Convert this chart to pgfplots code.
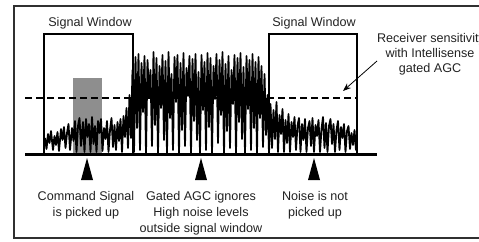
\documentclass[border=0pt]{standalone}
\usepackage{pgfplots}
\pgfplotsset{compat=1.18}
\usepackage{fontspec}
\setmainfont{Liberation Sans}
\usetikzlibrary{arrows.meta}
\definecolor{frame}{HTML}{303030}
\definecolor{txt}{HTML}{222222}
\definecolor{shade}{HTML}{8E8E8E}
\begin{document}
\begin{tikzpicture}
\begin{axis}[name=ax, scale only axis, width=479pt, height=241pt,
  xmin=0, xmax=479, ymin=0, ymax=241, y dir=reverse,
  hide axis, clip=false]
% frame
\addplot[draw=frame, line width=2pt, mark=none] coordinates {(492,5.5) (13.5,5.5) (13.5,237.5) (492,237.5)};
% command signal shading
\addplot[fill=shade, draw=none, mark=none] coordinates {(73,78) (102,78) (102,154) (73,154)} -- cycle;
% signal windows
\addplot[draw=black, line width=1.8pt, mark=none] coordinates {(44,154) (44,34) (133,34) (133,154)};
\addplot[draw=black, line width=1.8pt, mark=none] coordinates {(269,154) (269,34) (357,34) (357,154)};
% received noise
\addplot[draw=black, line width=1.8pt, line join=round, mark=none] coordinates {
(45,138)(46.5,149)(48,134)(49.5,143)(51,131)(53,150)(54.5,136)(56,145)(57.5,132)(59,151)
(61,129)(62.5,140)(64,127)(65.5,148)(67,133)(68.5,124)(70,150)(72,128)(73.5,141)(75,121)
(76.5,152)(78,126)(79.5,118)(81,146)(83,122)(84.5,152)(86,119)(87.5,137)(89,124)(90.5,152)
(92,117)(93.5,144)(95,126)(96.5,152)(98,121)(99.5,133)(101,119)(102.5,151)(104,128)(105.5,139)
(107,121)(108.5,152)(110,130)(111.5,118)(113,147)(114.5,125)(116,150)(117.5,122)(119,141)(120.5,119)
(122,152)(123.5,116)(125,137)(126.5,108)(128,148)(129.5,95)(131,138)(132.5,70)(134,152)(135.5,57)
(137,128)(138.5,54)(140,150)(141.5,63)(143,112)(144.5,56)(146,153)(147.5,60)(149,97)(150.5,70)
(152,146)(153.5,52)(155,125)(156.5,58)(158,153)(159.5,66)(161,108)(162.5,55)(164,140)(165.5,61)
(167,153)(168.5,52)(170,118)(171.5,74)(173,150)(174.5,57)(176,102)(177.5,55)(179,153)(180.5,63)
(182,130)(183.5,53)(185,146)(186.5,68)(188,96)(189.5,56)(191,153)(192.5,59)(194,121)(195.5,54)
(197,140)(198.5,72)(200,153)(201.5,55)(203,110)(204.5,62)(206,150)(207.5,53)(209,127)(210.5,58)
(212,153)(213.5,66)(215,99)(216.5,54)(218,143)(219.5,60)(221,115)(222.5,52)(224,153)(225.5,64)
(227,131)(228.5,56)(230,148)(231.5,70)(233,104)(234.5,55)(236,153)(237.5,58)(239,122)(240.5,53)
(242,139)(243.5,67)(245,153)(246.5,56)(248,109)(249.5,60)(251,150)(252.5,54)(254,128)(255.5,62)
(257,153)(258.5,57)(260,118)(261.5,66)(263,147)(264.5,74)(266,135)(267.5,95)(269,153)
(270.5,104)(272,148)(273.5,110)(275,139)(276.5,102)(278,152)(279.5,115)(281,134)(282.5,109)(284,152)
(285.5,120)(287,143)(288.5,114)(290,152)(291.5,122)(293,137)(294.5,117)(296,150)(297.5,126)(299,118)
(300.5,152)(302,124)(303.5,140)(305,119)(306.5,152)(308,128)(309.5,121)(311,146)(312.5,118)(314,152)
(315.5,125)(317,136)(318.5,120)(320,152)(321.5,129)(323,117)(324.5,148)(326,123)(327.5,152)(329,126)
(330.5,119)(332,144)(333.5,124)(335,152)(336.5,130)(338,121)(339.5,150)(341,127)(342.5,138)(344,124)
(345.5,152)(347,131)(348.5,126)(350,149)(351.5,133)(353,145)(354.5,130)(356,150)(357,142)};
% sensitivity threshold
\addplot[draw=black, line width=1.8pt, dash pattern=on 7pt off 4pt, mark=none] coordinates {(25,98) (357,98)};
% baseline
\addplot[draw=black, line width=3pt, mark=none] coordinates {(25,154) (377,154)};
% triangles
\addplot[fill=black, draw=none, mark=none] coordinates {(81,180) (93,180) (87,158)} -- cycle;
\addplot[fill=black, draw=none, mark=none] coordinates {(195,180) (207,180) (201,158)} -- cycle;
\addplot[fill=black, draw=none, mark=none] coordinates {(308,180) (320,180) (314,158)} -- cycle;
% arrow
\addplot[draw=black, line width=0.8pt, -{Stealth[length=8pt,width=6pt]}, mark=none] coordinates {(377,61) (343,91)};
% labels
\tikzset{lab/.style={anchor=base, inner sep=0pt, text=txt, font=\fontsize{12.6}{15}\selectfont}}
\node[lab] at (90,26) {Signal Window};
\node[lab] at (314,26) {Signal Window};
\node[lab] at (431,42) {Receiver sensitivity};
\node[lab] at (430,57) {with Intellisense};
\node[lab] at (430,72) {gated AGC};
\node[lab] at (86,200) {Command Signal};
\node[lab] at (86,216) {is picked up};
\node[lab] at (201,200) {Gated AGC ignores};
\node[lab] at (201,216) {High noise levels};
\node[lab] at (201,232) {outside signal window};
\node[lab] at (315,200) {Noise is not};
\node[lab] at (315,216) {picked up};
\end{axis}
\pgfresetboundingbox
\useasboundingbox (ax.south west) rectangle (ax.north east);
\end{tikzpicture}
\end{document}
